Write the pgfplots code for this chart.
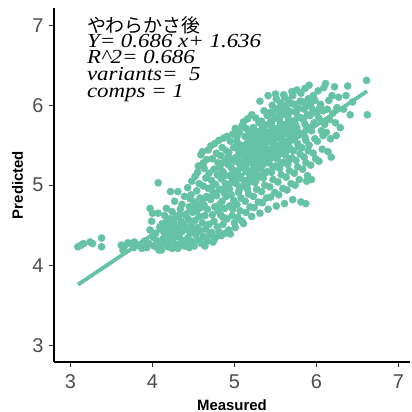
\documentclass[border=0pt]{standalone}
\usepackage{pgfplots}
\pgfplotsset{compat=1.18}
\usepackage{pgfplotstable}
\usepackage{graphicx}
\usepackage{fontspec}
\setmainfont{Liberation Sans}
\newfontfamily\serifit{Liberation Serif}
\newfontfamily\cjk{Noto Sans CJK JP}
\definecolor{pt}{RGB}{102,194,165}
\definecolor{tickgray}{RGB}{77,77,77}
\definecolor{tickcol}{RGB}{51,51,51}

\pgfplotstableread{
x y
3.09 4.23
3.13 4.25
3.16 4.27
3.24 4.29
3.27 4.27
3.38 4.34
3.38 4.23
3.62 4.25
3.64 4.19
3.66 4.24
3.70 4.28
3.74 4.27
3.77 4.22
3.80 4.26
3.84 4.24
3.87 4.21
3.78 4.29
3.90 4.30
3.93 4.22
3.97 4.71
4.00 4.65
3.97 4.44
4.01 4.35
4.07 4.65
4.07 5.03
3.96 4.27
4.02 4.24
4.05 4.31
4.08 4.19
4.11 4.26
4.04 4.40
4.09 4.48
3.99 4.55
4.06 4.22
4.11 4.19
4.13 4.33
4.12 4.52
4.14 4.41
4.15 4.62
4.17 4.54
4.16 4.28
4.18 4.36
4.19 4.23
4.13 4.47
4.17 4.71
4.20 4.45
4.21 4.30
4.22 4.58
4.23 4.39
4.24 4.21
4.24 4.67
4.25 4.49
4.26 4.34
4.27 4.80
4.27 4.44
4.28 4.26
4.29 4.61
4.29 4.38
4.22 4.92
4.26 4.53
4.31 4.21
4.31 4.92
4.32 4.48
4.33 4.35
4.33 4.63
4.34 4.27
4.35 4.55
4.36 4.42
4.36 4.76
4.37 4.31
4.38 4.51
4.39 4.86
4.39 4.24
4.34 4.70
4.41 4.28
4.41 4.62
4.42 4.45
4.43 4.97
4.43 4.34
4.44 4.57
4.45 4.22
4.45 4.73
4.46 4.40
4.47 4.88
4.47 4.51
4.48 4.30
4.48 5.05
4.49 4.66
4.50 4.44
4.46 4.83
4.51 4.24
4.51 4.79
4.52 4.56
4.52 5.11
4.53 4.38
4.54 4.68
4.54 4.93
4.55 4.47
4.56 5.24
4.56 4.31
4.57 4.61
4.57 5.02
4.58 4.84
4.58 4.43
4.59 5.38
4.59 4.72
4.60 4.27
4.55 5.16
4.61 4.53
4.61 5.42
4.62 4.36
4.62 4.99
4.63 4.75
4.63 5.21
4.64 4.24
4.64 4.62
4.65 5.09
4.65 4.45
4.66 5.32
4.66 4.86
4.67 4.30
4.67 4.70
4.68 5.44
4.68 4.96
4.69 4.51
4.69 5.15
4.70 4.38
4.62 5.28
4.71 4.82
4.71 5.49
4.72 4.41
4.72 5.06
4.73 4.63
4.73 5.33
4.74 4.29
4.74 4.91
4.75 5.20
4.75 4.55
4.76 5.52
4.76 4.73
4.77 5.01
4.77 4.35
4.78 5.40
4.78 4.87
4.79 4.48
4.79 5.13
4.80 4.68
4.80 5.28
4.72 4.97
4.76 4.33
4.81 4.42
4.81 5.56
4.82 4.95
4.82 5.22
4.83 4.63
4.83 5.37
4.84 4.37
4.84 5.08
4.85 4.80
4.85 5.47
4.86 4.51
4.86 5.17
4.87 4.91
4.87 5.59
4.88 4.71
4.88 5.30
4.89 4.40
4.89 5.02
4.90 4.86
4.90 5.43
4.84 5.27
4.86 4.60
4.88 5.12
4.82 4.76
4.91 4.58
4.91 5.61
4.92 4.97
4.92 5.26
4.93 4.44
4.93 5.41
4.94 4.74
4.94 5.12
4.95 5.55
4.95 4.39
4.96 4.88
4.96 5.33
4.97 5.04
4.97 4.62
4.98 5.64
4.98 5.19
4.99 4.81
4.99 5.47
5.00 4.53
5.00 5.08
4.92 5.36
4.94 4.95
4.96 5.22
4.98 4.70
5.00 5.30
4.93 5.00
5.01 4.47
5.01 5.71
5.02 5.02
5.02 5.35
5.03 4.76
5.03 5.54
5.04 4.60
5.04 5.18
5.05 5.43
5.05 4.91
5.06 5.66
5.06 5.27
5.07 4.68
5.07 5.09
5.08 5.50
5.08 4.84
5.09 5.23
5.09 5.74
5.10 4.99
5.10 5.38
5.02 5.14
5.04 5.31
5.06 4.95
5.08 5.40
5.03 5.60
5.05 5.12
5.07 5.48
5.09 4.55
5.11 4.52
5.11 5.79
5.12 5.06
5.12 5.44
5.13 4.80
5.13 5.61
5.14 5.25
5.14 4.66
5.15 5.52
5.15 5.00
5.16 5.83
5.16 5.34
5.17 4.89
5.17 5.69
5.18 5.15
5.18 5.47
5.19 4.73
5.19 5.58
5.20 5.29
5.20 5.05
5.12 5.21
5.13 5.37
5.14 5.71
5.15 5.18
5.16 4.95
5.17 5.41
5.18 5.64
5.19 5.10
5.20 5.50
5.11 5.30
5.21 4.61
5.21 5.88
5.22 5.14
5.22 5.49
5.23 4.86
5.23 5.72
5.24 5.31
5.24 4.72
5.25 5.60
5.25 5.03
5.26 5.42
5.26 5.84
5.27 4.95
5.27 5.23
5.28 5.67
5.28 5.36
5.29 4.79
5.29 5.53
5.30 5.12
5.30 5.78
5.22 5.27
5.23 5.45
5.24 5.65
5.25 5.19
5.26 5.56
5.27 5.08
5.28 5.47
5.29 5.32
5.21 5.38
5.30 5.60
5.31 4.65
5.31 6.05
5.32 5.21
5.32 5.58
5.33 4.92
5.33 5.80
5.34 5.38
5.34 4.78
5.35 5.69
5.35 5.09
5.36 5.49
5.36 5.93
5.37 5.00
5.37 5.30
5.38 5.75
5.38 5.44
5.39 4.84
5.39 5.62
5.40 5.17
5.40 5.87
5.32 5.36
5.33 5.52
5.34 5.71
5.35 5.26
5.36 5.63
5.37 5.15
5.38 5.55
5.39 5.39
5.31 5.46
5.40 5.66
5.41 4.70
5.41 6.12
5.42 5.28
5.42 5.66
5.43 4.98
5.43 5.88
5.44 5.45
5.44 4.85
5.45 5.77
5.45 5.16
5.46 5.57
5.46 6.00
5.47 5.07
5.47 5.37
5.48 5.83
5.48 5.52
5.49 4.91
5.49 5.70
5.50 5.24
5.50 5.95
5.42 5.44
5.43 5.60
5.44 5.79
5.45 5.34
5.46 5.71
5.47 5.22
5.48 5.63
5.49 5.47
5.41 5.54
5.50 6.14
5.44 5.91
5.47 5.86
5.51 4.74
5.51 6.08
5.52 5.33
5.52 5.71
5.53 5.04
5.53 5.93
5.54 5.50
5.54 4.88
5.55 5.82
5.55 5.21
5.56 5.62
5.56 6.03
5.57 5.13
5.57 5.42
5.58 5.88
5.58 5.57
5.59 4.96
5.59 5.75
5.60 5.29
5.60 6.00
5.52 5.48
5.53 5.65
5.54 5.85
5.55 5.39
5.56 5.77
5.57 5.27
5.58 5.69
5.59 5.53
5.51 5.59
5.60 6.13
5.54 5.96
5.57 5.91
5.61 4.77
5.61 6.10
5.62 5.38
5.62 5.76
5.63 5.10
5.63 5.97
5.64 5.55
5.64 4.94
5.65 5.86
5.65 5.26
5.66 5.67
5.66 6.06
5.67 5.18
5.67 5.47
5.68 5.92
5.68 5.62
5.69 5.02
5.69 5.80
5.70 5.34
5.70 6.17
5.62 5.52
5.63 5.70
5.64 5.89
5.65 5.44
5.66 5.81
5.67 5.32
5.68 5.73
5.69 5.58
5.61 5.64
5.70 6.02
5.71 4.82
5.71 6.12
5.72 5.43
5.72 5.80
5.73 5.15
5.73 6.01
5.74 5.60
5.74 5.00
5.75 5.91
5.75 5.31
5.76 5.72
5.76 6.19
5.77 5.23
5.77 5.52
5.78 5.96
5.78 5.66
5.79 5.07
5.79 5.85
5.80 5.39
5.80 6.05
5.72 5.57
5.74 5.76
5.76 5.94
5.78 5.48
5.73 5.68
5.77 5.84
5.81 4.79
5.81 6.15
5.82 5.47
5.82 5.84
5.83 5.20
5.83 6.04
5.84 5.65
5.85 5.95
5.85 5.35
5.86 5.76
5.86 6.21
5.87 5.28
5.87 5.56
5.88 5.99
5.88 5.70
5.89 5.12
5.89 5.88
5.90 5.43
5.90 6.08
5.84 5.82
5.86 5.60
5.88 5.05
5.87 4.77
5.91 5.50
5.91 6.25
5.92 5.87
5.93 5.25
5.93 6.02
5.94 5.68
5.94 5.07
5.95 5.95
5.96 5.40
5.96 6.12
5.97 5.78
5.98 5.58
5.98 6.06
5.99 5.33
6.00 5.90
5.92 5.72
6.01 5.55
6.02 6.18
6.03 5.84
6.03 5.30
6.05 6.01
6.06 5.68
6.07 5.45
6.08 5.93
6.09 6.22
6.10 5.76
6.04 5.97
6.08 5.62
6.11 6.27
6.12 5.66
6.13 5.95
6.14 5.42
6.15 6.06
6.16 5.82
6.17 5.58
6.18 5.35
6.19 6.12
6.20 5.90
6.22 6.23
6.23 5.78
6.25 5.97
6.27 6.10
6.29 5.72
6.24 5.62
6.33 5.95
6.36 6.12
6.38 6.24
6.41 5.88
6.44 6.04
6.61 6.31
6.62 5.88
}\pts

\begin{document}
\begin{tikzpicture}
\begin{axis}[
  scale only axis, width=356bp, height=354bp,
  xmin=2.80, xmax=7.14, ymin=2.79, ymax=7.215,
  axis x line*=bottom, axis y line*=left,
  axis line style={line width=1.2bp, black, -},
  xtick={3,4,5,6,7}, ytick={3,4,5,6,7},
  tick align=outside, major tick length=5bp,
  every tick/.style={line width=1.1bp, tickcol},
  /pgf/number format/assume math mode=true,
  ticklabel style={font=\fontsize{20}{20}\selectfont, text=tickgray},
  xticklabel style={anchor=north, yshift=-4bp},
  yticklabel style={anchor=east, xshift=-2bp},
  xlabel={Measured}, ylabel={Predicted},
  label style={font=\bfseries\fontsize{15}{15}\selectfont, text=black},
  xlabel style={at={(axis description cs:0.5,0)}, anchor=base, yshift=-48bp},
  ylabel style={at={([xshift=-31bp]axis description cs:0,0.5)}, anchor=base},
  clip=false,
]
\addplot[only marks, mark=*, mark size=3.6bp, pt, mark options={draw=none, fill=pt}] table {\pts};
\addplot[pt, line width=3.8bp] coordinates {(3.093,3.758) (6.617,6.175)};
\node[anchor=base west, inner sep=0, font=\cjk\fontsize{19}{19}\selectfont] at (axis cs:3.2,6.91) {やわらかさ後};
\node[anchor=base west, inner sep=0, font=\serifit\itshape\fontsize{20}{20}\selectfont] at (axis cs:3.2,6.725) {\scalebox{1.15}[1]{Y= 0.686 x+ 1.636}};
\node[anchor=base west, inner sep=0, font=\serifit\itshape\fontsize{20}{20}\selectfont] at (axis cs:3.2,6.525) {\scalebox{1.15}[1]{R\textasciicircum 2= 0.686}};
\node[anchor=base west, inner sep=0, font=\serifit\itshape\fontsize{20}{20}\selectfont] at (axis cs:3.2,6.31) {\scalebox{1.15}[1]{variants=\ \ 5}};
\node[anchor=base west, inner sep=0, font=\serifit\itshape\fontsize{20}{20}\selectfont] at (axis cs:3.2,6.10) {\scalebox{1.15}[1]{comps = 1}};
\end{axis}
\pgfresetboundingbox
\path[use as bounding box] ([xshift=-54bp,yshift=-50bp]current axis.south west) rectangle ([xshift=2bp,yshift=8bp]current axis.north east);
\end{tikzpicture}
\end{document}
